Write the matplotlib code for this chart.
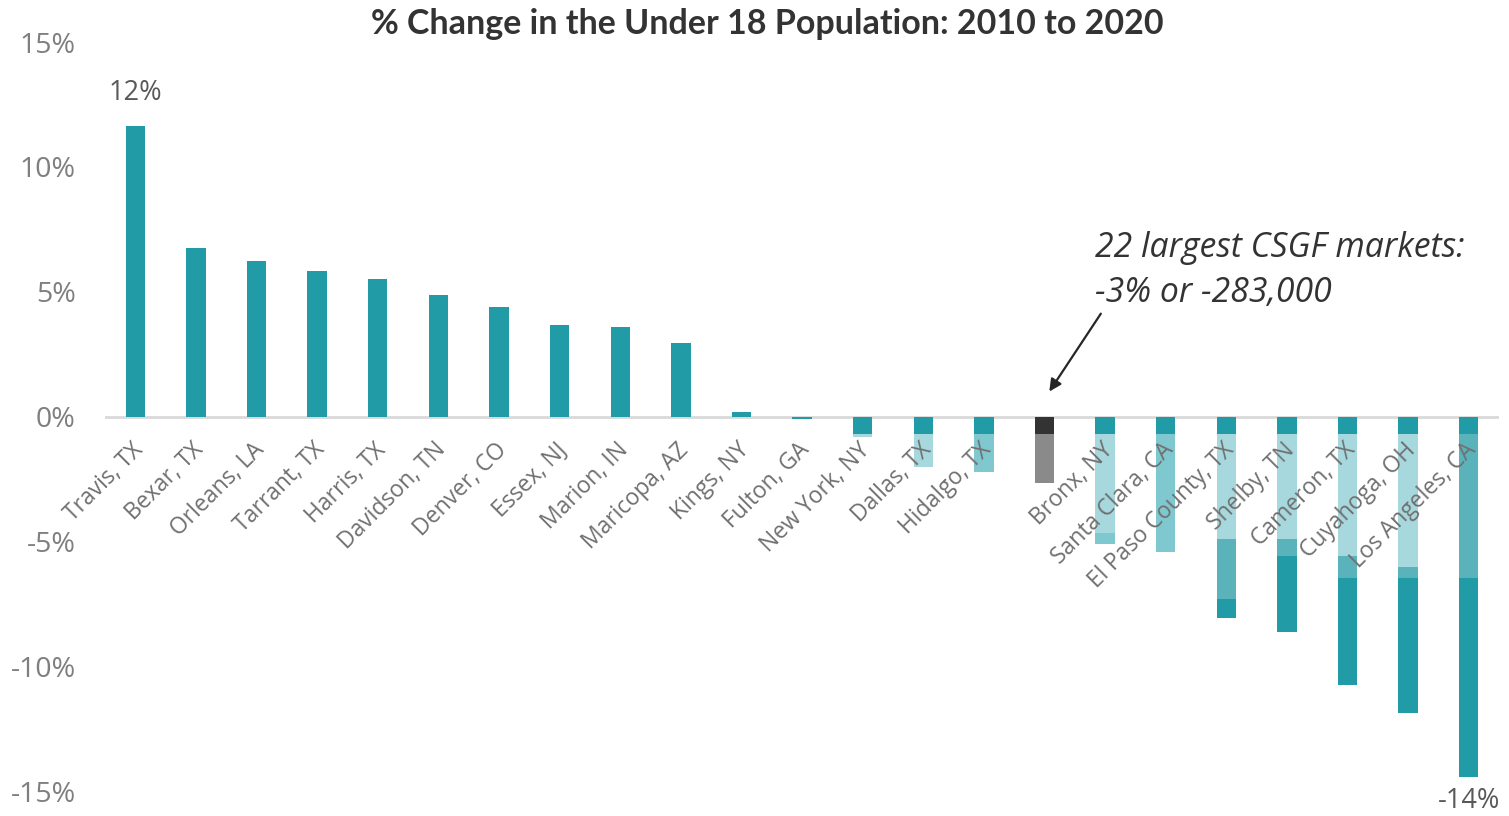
import matplotlib
matplotlib.use("Agg")
import matplotlib.pyplot as plt
import numpy as np

# County names along the x axis (the blank slot is the 22-market aggregate)
counties = ["Travis, TX", "Bexar, TX", "Orleans, LA", "Tarrant, TX", "Harris, TX",
            "Davidson, TN", "Denver, CO", "Essex, NJ", "Marion, IN", "Maricopa, AZ",
            "Kings, NY", "Fulton, GA", "New York, NY", "Dallas, TX", "Hidalgo, TX",
            "", "Bronx, NY", "Santa Clara, CA", "El Paso County, TX", "Shelby, TN",
            "Cameron, TX", "Cuyahoga, OH", "Los Angeles, CA"]

# % change in under-18 population, 2010 to 2020
pct_change = [11.65, 6.77, 6.21, 5.81, 5.49, 4.85, 4.37, 3.68, 3.60, 2.96,
              0.20, -0.08, -0.84, -2.04, -2.24, -2.68, -5.09, -5.41, -8.05,
              -8.65, -10.77, -11.89, -14.45]

# Index of the aggregate bar for the 22 largest markets
aggregate_idx = 15

# Shaded bands inside the declining bars (depth where each band ends, NaN = none)
cap_end = -0.68
pale_end = [np.nan] * 12 + [-0.84, -2.04, np.nan, np.nan, -4.65, np.nan, -4.89,
                            -4.89, -5.57, -6.01, np.nan]
soft_end = [np.nan] * 12 + [np.nan, np.nan, -2.24, np.nan, -5.09, -5.41, np.nan,
                            np.nan, np.nan, np.nan, np.nan]
mid_end = [np.nan] * 12 + [np.nan, np.nan, np.nan, np.nan, np.nan, np.nan, -7.29,
                           -5.57, -6.45, -6.45, -6.45]

TEAL = "#219BA6"
PALE = "#A6D8DD"
SOFT = "#7FC8CF"
MID = "#5AB3BB"
GRAY_TOP = "#333333"
GRAY = "#8A8A8A"

fig = plt.figure(figsize=(15.09, 8.16), dpi=100)
ax = fig.add_axes([0.0696, 0.0306, 0.9238, 0.9179])

w = 0.32

for i, v in enumerate(pct_change):
    if v >= 0 or v > cap_end:
        ax.bar(i, v, width=w, color=TEAL, zorder=2)
        continue
    if i == aggregate_idx:
        ax.bar(i, cap_end, width=w, color=GRAY_TOP, zorder=2)
        ax.bar(i, v - cap_end, bottom=cap_end, width=w, color=GRAY, zorder=2)
        continue
    # build the stacked bands from the top down
    bands = [(cap_end, TEAL)]
    for ends, col in ((pale_end, PALE), (soft_end, SOFT), (mid_end, MID)):
        if not np.isnan(ends[i]):
            bands.append((ends[i], col))
    bands.sort(key=lambda b: -b[0])
    if bands[-1][0] > v:
        bands.append((v, TEAL))
    top = 0.0
    for end, col in bands:
        ax.bar(i, end - top, bottom=top, width=w, color=col, zorder=2,
               linewidth=0)
        top = end

# zero line
ax.axhline(0, color="#D9D9D9", lw=2, zorder=1)

ax.set_xlim(-0.5, len(counties) - 0.5)
ax.set_ylim(-15, 15)
yticks = [-15, -10, -5, 0, 5, 10, 15]
ax.set_yticks(yticks)
ax.set_yticklabels([f"{t}%" for t in yticks])
ax.tick_params(axis="y", length=0, labelsize=20.5, labelcolor="#7F7F7F", pad=21)
ax.set_xticks([])
for s in ax.spines.values():
    s.set_visible(False)
for lab in ax.get_yticklabels():
    lab.set_fontfamily("Open Sans")

# category labels sit just under the zero line
for i, name in enumerate(counties):
    ax.text(i + 0.07, -1.2, name, rotation=45, rotation_mode="anchor",
            ha="right", va="center", fontsize=16.5, color="#707070",
            family="Open Sans", zorder=5)

# end labels
ax.text(0, pct_change[0] + 0.75, f"{pct_change[0]:.0f}%", ha="center",
        va="bottom", fontsize=19.5, color="#595959", family="Open Sans")
ax.text(len(counties) - 1, pct_change[-1] - 0.4, f"{pct_change[-1]:.0f}%",
        ha="center", va="top", fontsize=19.5, color="#595959", family="Open Sans")

# title
fig.text(0.5085, 0.971, "% Change in the Under 18 Population: 2010 to 2020",
         ha="center", va="center", fontsize=24.5, fontweight="bold",
         color="#333333", family="Lato")

# callout for the aggregate bar
ax.text(15.83, 7.45, "22 largest CSGF markets:\n-3% or -283,000",
        ha="left", va="top", fontsize=24.3, style="italic",
        color="#333333", family="Open Sans", linespacing=1.45)
ax.annotate("", xy=(15.08, 1.0), xytext=(15.93, 4.12),
            arrowprops=dict(arrowstyle="-|>", color="#262626", lw=1.6,
                            mutation_scale=18, shrinkA=0, shrinkB=0))

fig.savefig("out.png", dpi=100)
